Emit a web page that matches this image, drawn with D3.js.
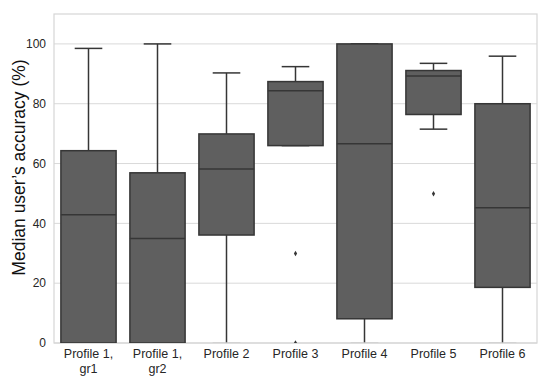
<!DOCTYPE html>
<html><head><meta charset="utf-8">
<script src="https://cdn.jsdelivr.net/npm/d3@7"></script>
<style>body{margin:0;background:#fff}svg{display:block}text{font-family:Arial,"Liberation Sans",sans-serif}</style>
</head><body>
<svg id="c" width="550" height="384"></svg>
<script>
const categories = ["Profile 1,\ngr1","Profile 1,\ngr2","Profile 2","Profile 3","Profile 4","Profile 5","Profile 6"];
const whiskerLow = [0, 0, 0, 66.0, 0, 71.5, 0];
const q1Values   = [0, 0, 36.1, 66.0, 8.1, 76.4, 18.6];
const medians    = [42.9, 34.9, 58.2, 84.3, 66.6, 89.3, 45.2];
const q3Values   = [64.3, 56.9, 69.9, 87.4, 100, 91.1, 80.0];
const whiskerHigh= [98.5, 100, 90.3, 92.4, 100, 93.5, 95.9];
const outliers   = [[], [], [], [29.9, 0], [], [49.9], []];
const yTicks = [0, 20, 40, 60, 80, 100];
const yLabel = "Median user\u2019s accuracy (%)";

const svg = d3.select("#c");
const m = {l:54, r:537, t:14, b:343};
const x = d3.scaleBand().domain(categories).range([m.l, m.r]).paddingInner(0).paddingOuter(0);
const y = d3.scaleLinear().domain([0,110]).range([m.b, m.t]);

svg.append("defs").append("clipPath").attr("id","clip")
  .append("rect").attr("x",m.l).attr("y",m.t).attr("width",m.r-m.l).attr("height",m.b-m.t);

// grid
svg.append("g").selectAll("line").data(yTicks).join("line")
  .attr("x1",m.l).attr("x2",m.r).attr("y1",d=>y(d)).attr("y2",d=>y(d))
  .attr("stroke","#d9d9d9").attr("stroke-width",1);

// frame
svg.append("rect").attr("x",m.l).attr("y",m.t).attr("width",m.r-m.l).attr("height",m.b-m.t)
  .attr("fill","none").attr("stroke","#d6d6d6").attr("stroke-width",1.2);

const data = categories.map((c,i)=>({c, lo:whiskerLow[i], q1:q1Values[i], med:medians[i], q3:q3Values[i], hi:whiskerHigh[i], out:outliers[i]}));
const bw = x.bandwidth()*0.8;
const lineC = "#363636";
const g = svg.append("g").attr("clip-path","url(#clip)");
const boxes = g.selectAll("g.b").data(data).join("g").attr("class","b");
const cx = d => x(d.c)+x.bandwidth()/2;
// whiskers
boxes.append("line").attr("x1",cx).attr("x2",cx).attr("y1",d=>y(d.q3)).attr("y2",d=>y(d.hi)).attr("stroke",lineC).attr("stroke-width",1.5);
boxes.append("line").attr("x1",cx).attr("x2",cx).attr("y1",d=>y(d.q1)).attr("y2",d=>y(d.lo)).attr("stroke",lineC).attr("stroke-width",1.5);
// caps
boxes.append("line").attr("x1",d=>cx(d)-bw/4).attr("x2",d=>cx(d)+bw/4).attr("y1",d=>y(d.hi)).attr("y2",d=>y(d.hi)).attr("stroke",lineC).attr("stroke-width",1.5);
boxes.append("line").attr("x1",d=>cx(d)-bw/4).attr("x2",d=>cx(d)+bw/4).attr("y1",d=>y(d.lo)).attr("y2",d=>y(d.lo)).attr("stroke",d=>d.lo===0?"#cfcfcf":lineC).attr("stroke-width",1.5);
// box
boxes.append("rect").attr("x",d=>cx(d)-bw/2).attr("width",bw)
  .attr("y",d=>y(d.q3)).attr("height",d=>y(d.q1)-y(d.q3))
  .attr("fill","#5f5f5f").attr("stroke",lineC).attr("stroke-width",1.5);
// median
boxes.append("line").attr("x1",d=>cx(d)-bw/2).attr("x2",d=>cx(d)+bw/2).attr("y1",d=>y(d.med)).attr("y2",d=>y(d.med)).attr("stroke",lineC).attr("stroke-width",1.5);
// outliers
boxes.selectAll("path.o").data(d=>d.out.map(v=>({c:d.c,v}))).join("path").attr("class","o")
  .attr("d", d3.symbol(d3.symbolDiamond, 9))
  .attr("transform",d=>`translate(${cx(d)},${y(d.v)})`).attr("fill",lineC);

// y ticks
svg.append("g").selectAll("text").data(yTicks).join("text")
  .attr("x",m.l-8).attr("y",d=>y(d)).attr("dy","0.35em").attr("text-anchor","end")
  .attr("font-size",12).attr("fill","#262626").text(d=>d);

// x ticks
const xt = svg.append("g").selectAll("text").data(categories).join("text")
  .attr("x",d=>x(d)+x.bandwidth()/2).attr("y",358).attr("text-anchor","middle")
  .attr("font-size",12.5).attr("fill","#262626");
xt.selectAll("tspan").data(d=>d.split("\n")).join("tspan")
  .attr("x",function(){return this.parentNode.getAttribute("x");})
  .attr("dy",(d,i)=>i===0?0:14.5).text(d=>d);

// y label
svg.append("text").attr("transform",`translate(25,167.5) rotate(-90)`)
  .attr("text-anchor","middle").attr("font-size",17.5).attr("fill","#111").text(yLabel);
</script>
</body></html>
